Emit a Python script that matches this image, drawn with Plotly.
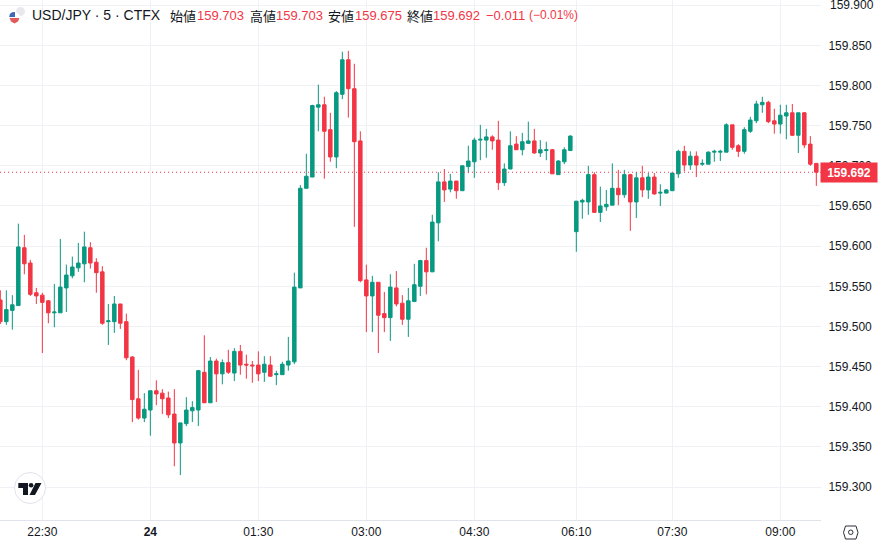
"""USD/JPY 5 minute candlestick chart in the TradingView look."""

import plotly.graph_objects as go

WIDTH = 880
HEIGHT = 543
PLOT_W = 821
PLOT_H = 520

GREEN = "#089981"
RED = "#f23645"
TEXT = "#131722"
GRID = "#f0f1f4"
LABEL_FONT = "Liberation Sans, Arial, sans-serif"
CJK_FONT = "Noto Sans CJK JP, sans-serif"

# one entry per 5 minute bar, x is the bar number so the session gap collapses
opens = [
    159.533, 159.506, 159.520, 159.526, 159.598, 159.579, 159.542, 159.539, 159.532, 159.517,
    159.517, 159.548, 159.563, 159.573, 159.578, 159.598, 159.580, 159.568, 159.506, 159.506,
    159.528, 159.506, 159.462, 159.410, 159.386, 159.396, 159.420, 159.417, 159.411, 159.391,
    159.355, 159.379, 159.395, 159.396, 159.443, 159.405, 159.457, 159.441, 159.455, 159.442,
    159.469, 159.453, 159.452, 159.452, 159.443, 159.452, 159.440, 159.440, 159.452, 159.456,
    159.548, 159.672, 159.686, 159.773, 159.776, 159.745, 159.711, 159.789, 159.832, 159.796,
    159.731, 159.558, 159.538, 159.555, 159.516, 159.511, 159.548, 159.529, 159.509, 159.531,
    159.550, 159.582, 159.568, 159.629, 159.680, 159.671, 159.681, 159.669, 159.699, 159.705,
    159.732, 159.732, 159.736, 159.732, 159.679, 159.696, 159.727, 159.720, 159.728, 159.731,
    159.716, 159.719, 159.720, 159.689, 159.705, 159.719, 159.618, 159.655, 159.655, 159.689,
    159.642, 159.649, 159.651, 159.672, 159.664, 159.689, 159.655, 159.685, 159.670, 159.686,
    159.666, 159.666, 159.669, 159.690, 159.718, 159.701, 159.712, 159.702, 159.702, 159.717,
    159.717, 159.717, 159.751, 159.725, 159.718, 159.743, 159.756, 159.776, 159.779, 159.756,
    159.752, 159.762, 159.766, 159.738, 159.766, 159.727, 159.703,
]
highs = [
    159.545, 159.545, 159.539, 159.628, 159.614, 159.583, 159.548, 159.542, 159.533, 159.553,
    159.609, 159.577, 159.587, 159.604, 159.618, 159.605, 159.585, 159.575, 159.528, 159.538,
    159.528, 159.516, 159.463, 159.446, 159.417, 159.420, 159.433, 159.422, 159.419, 159.422,
    159.380, 159.412, 159.407, 159.446, 159.489, 159.462, 159.460, 159.459, 159.471, 159.473,
    159.477, 159.465, 159.457, 159.469, 159.463, 159.463, 159.445, 159.456, 159.487, 159.567,
    159.676, 159.715, 159.776, 159.801, 159.786, 159.766, 159.793, 159.842, 159.843, 159.827,
    159.743, 159.577, 159.563, 159.555, 159.543, 159.565, 159.569, 159.539, 159.548, 159.578,
    159.583, 159.598, 159.639, 159.692, 159.696, 159.690, 159.681, 159.700, 159.725, 159.735,
    159.751, 159.746, 159.738, 159.756, 159.703, 159.743, 159.737, 159.741, 159.755, 159.746,
    159.732, 159.730, 159.721, 159.707, 159.723, 159.738, 159.656, 159.659, 159.700, 159.692,
    159.674, 159.670, 159.703, 159.695, 159.695, 159.690, 159.692, 159.700, 159.691, 159.691,
    159.677, 159.671, 159.691, 159.720, 159.725, 159.718, 159.718, 159.708, 159.718, 159.720,
    159.720, 159.753, 159.751, 159.727, 159.748, 159.761, 159.781, 159.786, 159.781, 159.771,
    159.776, 159.776, 159.777, 159.766, 159.767, 159.737, 159.703,
]
lows = [
    159.503, 159.502, 159.496, 159.526, 159.565, 159.538, 159.528, 159.467, 159.504, 159.499,
    159.517, 159.518, 159.560, 159.568, 159.555, 159.572, 159.542, 159.502, 159.477, 159.492,
    159.497, 159.458, 159.381, 159.384, 159.381, 159.364, 159.402, 159.391, 159.386, 159.326,
    159.315, 159.376, 159.381, 159.376, 159.405, 159.405, 159.406, 159.428, 159.441, 159.432,
    159.440, 159.435, 159.430, 159.432, 159.431, 159.438, 159.427, 159.440, 159.445, 159.453,
    159.548, 159.672, 159.686, 159.743, 159.684, 159.705, 159.697, 159.783, 159.760, 159.624,
    159.555, 159.493, 159.493, 159.467, 159.493, 159.482, 159.525, 159.502, 159.487, 159.531,
    159.538, 159.540, 159.568, 159.606, 159.655, 159.667, 159.659, 159.669, 159.691, 159.685,
    159.707, 159.710, 159.720, 159.670, 159.675, 159.696, 159.720, 159.713, 159.727, 159.715,
    159.711, 159.707, 159.690, 159.689, 159.702, 159.719, 159.593, 159.634, 159.639, 159.642,
    159.630, 159.644, 159.651, 159.651, 159.660, 159.619, 159.635, 159.661, 159.659, 159.664,
    159.650, 159.666, 159.669, 159.685, 159.693, 159.695, 159.686, 159.700, 159.702, 159.705,
    159.706, 159.717, 159.720, 159.711, 159.715, 159.741, 159.753, 159.766, 159.753, 159.740,
    159.740, 159.733, 159.737, 159.716, 159.722, 159.700, 159.675,
]
closes = [
    159.506, 159.521, 159.527, 159.599, 159.578, 159.540, 159.538, 159.530, 159.517, 159.518,
    159.549, 159.564, 159.574, 159.579, 159.599, 159.579, 159.567, 159.504, 159.507, 159.528,
    159.504, 159.461, 159.409, 159.386, 159.397, 159.420, 159.416, 159.410, 159.390, 159.355,
    159.380, 159.396, 159.399, 159.445, 159.405, 159.457, 159.441, 159.455, 159.443, 159.469,
    159.452, 159.452, 159.451, 159.441, 159.453, 159.438, 159.441, 159.453, 159.457, 159.549,
    159.672, 159.687, 159.775, 159.776, 159.743, 159.711, 159.791, 159.832, 159.796, 159.730,
    159.557, 159.538, 159.555, 159.514, 159.511, 159.549, 159.528, 159.509, 159.532, 159.552,
    159.582, 159.568, 159.630, 159.680, 159.670, 159.681, 159.669, 159.700, 159.706, 159.732,
    159.733, 159.736, 159.731, 159.679, 159.696, 159.725, 159.720, 159.730, 159.731, 159.716,
    159.720, 159.720, 159.690, 159.706, 159.720, 159.737, 159.656, 159.657, 159.689, 159.642,
    159.650, 159.652, 159.672, 159.664, 159.689, 159.655, 159.685, 159.670, 159.686, 159.665,
    159.667, 159.670, 159.691, 159.718, 159.701, 159.712, 159.701, 159.703, 159.717, 159.718,
    159.718, 159.751, 159.723, 159.718, 159.745, 159.757, 159.777, 159.779, 159.755, 159.752,
    159.763, 159.766, 159.738, 159.766, 159.726, 159.702, 159.692,
]
bars = list(range(len(closes)))

time_ticks = [7, 25, 43, 61, 79, 96, 112, 130]
time_labels = ["22:30", "<b>24</b>", "01:30", "03:00", "04:30", "06:10", "07:30", "09:00"]
price_ticks = [159.30, 159.35, 159.40, 159.45, 159.50, 159.55, 159.60, 159.65,
               159.70, 159.75, 159.80, 159.85, 159.90]
top_price = 159.90
last_price = 159.692

# header pieces: left pixel, text, colour, font, size
header = [
    (31, "USD/JPY · 5 · CTFX", TEXT, LABEL_FONT, 14),
    (169, "始値", TEXT, CJK_FONT, 13),
    (196, "159.703", RED, LABEL_FONT, 13),
    (249, "高値", TEXT, CJK_FONT, 13),
    (275, "159.703", RED, LABEL_FONT, 13),
    (327, "安値", TEXT, CJK_FONT, 13),
    (354, "159.675", RED, LABEL_FONT, 13),
    (406, "終値", TEXT, CJK_FONT, 13),
    (432, "159.692", RED, LABEL_FONT, 13),
    (485, "−0.011", RED, LABEL_FONT, 13),
    (528, "(−0.01%)", RED, LABEL_FONT, 12),
]


def px(x):
    return x / PLOT_W


def py(y):
    return 1 - y / PLOT_H


def poly(points):
    """SVG path in paper coordinates from pixel points."""
    parts = [f"{px(x):.5f},{py(y):.5f}" for x, y in points]
    return "M" + " L".join(parts) + " Z"


def paper_shape(kind, x0, y0, x1, y1, **style):
    return dict(type=kind, xref="paper", yref="paper", x0=px(x0), x1=px(x1), y0=py(y0), y1=py(y1), **style)


fig = go.Figure(
    go.Candlestick(
        x=bars,
        open=opens,
        high=highs,
        low=lows,
        close=closes,
        whiskerwidth=0,
        increasing={"line": {"color": GREEN, "width": 1}, "fillcolor": GREEN},
        decreasing={"line": {"color": RED, "width": 1}, "fillcolor": RED},
        showlegend=False,
    )
)

shapes = [
    # last price line
    dict(type="line", xref="paper", yref="y", x0=0, x1=1, y0=last_price, y1=last_price,
         line={"color": RED, "width": 1, "dash": "1px,3px"}),
    # flag in the header
    paper_shape("circle", 16, 7, 25, 16, fillcolor="#e8e8ee", line={"width": 0}),
    paper_shape("circle", 9, 12, 20, 23.5, fillcolor="#ffffff", line={"width": 0}),
    dict(type="path", xref="paper", yref="paper",
         path=poly([(9.6, 18), (19.4, 18), (18, 21.5), (14.5, 23.5), (11, 21.5)]), fillcolor="#e25a5a",
         line={"width": 0}),
    dict(type="path", xref="paper", yref="paper",
         path=poly([(9.2, 17), (9.8, 14), (12, 12.3), (15, 12), (15, 17)]), fillcolor="#3f67b5",
         line={"width": 0}),
    # logo badge
    paper_shape("circle", 14.5, 472.5, 45.5, 503.5, fillcolor="#ffffff", line={"color": "#e0e3eb", "width": 1}),
    dict(type="path", xref="paper", yref="paper",
         path=poly([(18.3, 483), (28, 483), (28, 495), (23, 495), (23, 488), (18.3, 488)]),
         fillcolor=TEXT, line={"width": 0}),
    paper_shape("circle", 28.8, 483, 33.4, 487.6, fillcolor=TEXT, line={"width": 0}),
    dict(type="path", xref="paper", yref="paper",
         path=poly([(35.5, 483), (41.5, 483), (35, 495), (29.5, 495)]), fillcolor=TEXT, line={"width": 0}),
    # settings hexagon at the corner
    dict(type="path", xref="paper", yref="paper",
         path=poly([(845.5, 526), (856, 526), (858, 532.5), (856, 539), (845.5, 539), (843.5, 532.5)]),
         fillcolor="rgba(0,0,0,0)", line={"color": "#2a2e39", "width": 1}),
    paper_shape("circle", 848.5, 530, 853, 534.5, fillcolor="rgba(0,0,0,0)", line={"color": "#2a2e39", "width": 1}),
]

annotations = [
    dict(xref="paper", yref="paper", x=px(x), y=py(15), xanchor="left", yanchor="middle", showarrow=False,
         xshift=-1, text=text, font={"family": family, "size": size, "color": color})
    for x, text, color, family, size in header
]
annotations.append(
    dict(xref="paper", yref="y", x=px(820), y=last_price, xanchor="left", yanchor="middle", showarrow=False,
         text=f"<b>{last_price:.3f}</b>", bgcolor=RED, borderpad=2, width=52, height=15,
         font={"family": LABEL_FONT, "size": 12, "color": "#ffffff"})
)
# plotly drops an axis label that pokes past the top of the page, so this one is added by hand
annotations.append(
    dict(xref="paper", yref="y", x=px(828), y=top_price, xanchor="left", yanchor="middle", showarrow=False,
         text=f"{top_price:.3f}", font={"family": LABEL_FONT, "size": 12, "color": TEXT})
)

fig.update_layout(
    width=WIDTH,
    height=HEIGHT,
    margin={"l": 0, "r": WIDTH - PLOT_W, "t": 0, "b": HEIGHT - PLOT_H},
    paper_bgcolor="#ffffff",
    plot_bgcolor="#ffffff",
    boxgap=0.17,
    showlegend=False,
    shapes=shapes,
    annotations=annotations,
    font={"family": LABEL_FONT, "color": TEXT, "size": 12},
    xaxis={
        "range": [-0.055, 136.78],
        "rangeslider": {"visible": False},
        "tickmode": "array",
        "tickvals": time_ticks,
        "ticktext": time_labels,
        "showgrid": True,
        "gridcolor": GRID,
        "gridwidth": 1,
        "zeroline": False,
        "showline": True,
        "linecolor": "#e0e3eb",
        "ticks": "outside",
        "ticklen": 1,
        "tickcolor": "rgba(0,0,0,0)",
    },
    yaxis={
        "side": "right",
        "range": [159.2591, 159.9064],
        "tickmode": "array",
        "tickvals": price_ticks,
        "ticktext": [f"{p:.3f}" for p in price_ticks],
        "showgrid": True,
        "gridcolor": GRID,
        "gridwidth": 1,
        "zeroline": False,
        "showline": False,
        "ticks": "outside",
        "ticklen": 4,
        "tickcolor": "rgba(0,0,0,0)",
    },
)

# the page body has a default margin that would push the chart out of the window
fig.write_html(
    "out.html",
    config={"displayModeBar": False},
    post_script="document.body.style.margin='0';",
)
